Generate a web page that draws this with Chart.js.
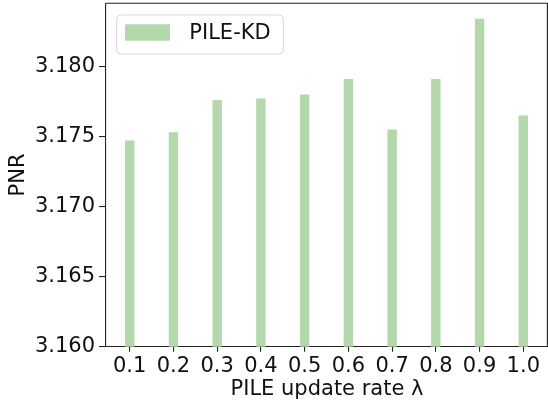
<!DOCTYPE html>
<html>
<head>
<meta charset="utf-8">
<script src="https://cdn.jsdelivr.net/npm/chart.js@4.4.0/dist/chart.umd.min.js"></script>
<style>
  html, body { margin: 0; padding: 0; background: #fff; }
  #wrap { width: 548px; height: 405px; }
</style>
</head>
<body>
<div id="wrap"><canvas id="myChart" width="548" height="405"></canvas></div>
<script>
// update rates on the x axis
const rates = [0.1, 0.2, 0.3, 0.4, 0.5, 0.6, 0.7, 0.8, 0.9, 1.0];
// PNR
const pnr = [3.1747, 3.1753, 3.1776, 3.1777, 3.1780, 3.1791, 3.1755, 3.1791, 3.1834, 3.1765];
const yTicks = [3.160, 3.165, 3.170, 3.175, 3.180];
const seriesName = 'PILE-KD';

const FONT = "'DejaVu Sans', sans-serif";
const barColor = '#b4d8ac';

// top / right spines like matplotlib
const spines = {
    id: 'spines',
    afterDraw(chart) {
        const a = chart.chartArea, c = chart.ctx;
        c.save();
        c.strokeStyle = '#222';
        c.lineWidth = 1.1;
        c.beginPath();
        c.moveTo(a.left, a.top);
        c.lineTo(a.right, a.top);
        c.moveTo(a.right - 0.6, a.top);
        c.lineTo(a.right - 0.6, a.bottom);
        c.stroke();
        c.restore();
    }
};

// legend box inside the plot, upper left
const innerLegend = {
    id: 'innerLegend',
    afterDraw(chart) {
        const a = chart.chartArea, c = chart.ctx;
        const x = a.left + 10.7, y = a.top + 11.7, w = 166.6, h = 39, r = 4;
        c.save();
        c.beginPath();
        c.moveTo(x + r, y);
        c.arcTo(x + w, y, x + w, y + h, r);
        c.arcTo(x + w, y + h, x, y + h, r);
        c.arcTo(x, y + h, x, y, r);
        c.arcTo(x, y, x + w, y, r);
        c.closePath();
        c.fillStyle = 'rgba(255,255,255,0.8)';
        c.fill();
        c.strokeStyle = '#d6d6d6';
        c.lineWidth = 1;
        c.stroke();
        c.fillStyle = barColor;
        c.fillRect(x + 8.3, y + 9.3, 45, 16.4);
        c.fillStyle = '#111';
        c.font = '21px ' + FONT;
        c.textBaseline = 'middle';
        c.fillText(chart.data.datasets[0].label, x + 72.6, y + 18.5);
        c.restore();
    }
};

const data = {
    datasets: [{
        label: seriesName,
        backgroundColor: barColor,
        borderWidth: 0,
        barThickness: 8.75,
        data: rates.map((r, i) => ({ x: r, y: pnr[i] })),
    }]
};

const config = {
    type: 'bar',
    data: data,
    plugins: [spines, innerLegend],
    options: {
        responsive: false,
        animation: false,
        layout: { padding: { top: 3.3, right: 0, left: 0, bottom: 0 } },
        plugins: {
            legend: { display: false },
            tooltip: { enabled: false }
        },
        scales: {
            x: {
                type: 'linear',
                offset: false,
                min: 0.0458,
                max: 1.0565,
                afterBuildTicks(scale) {
                    scale.ticks = rates.map(v => ({ value: v }));
                },
                afterFit(scale) {
                    scale.height = 58.3;
                    scale.paddingLeft = 0;
                    scale.paddingRight = 0;
                },
                grid: { offset: false, drawOnChartArea: false, tickLength: 5, color: '#222', lineWidth: 1.1 },
                border: { color: '#222', width: 1.1 },
                ticks: {
                    color: '#111',
                    font: { family: FONT, size: 21 },
                    padding: 2,
                    maxRotation: 0,
                    autoSkip: false,
                    callback: v => Number(v).toFixed(1)
                },
                title: {
                    display: true,
                    text: 'PILE update rate λ',
                    color: '#111',
                    font: { family: FONT, size: 21 },
                    padding: { top: 0, bottom: 2.4 }
                }
            },
            y: {
                min: 3.160,
                max: 3.18453,
                afterBuildTicks(scale) {
                    scale.ticks = yTicks.map(v => ({ value: v }));
                },
                afterFit(scale) {
                    scale.width = 106;
                    scale.paddingTop = 0;
                    scale.paddingBottom = 0;
                },
                grid: { drawOnChartArea: false, tickLength: 7, color: '#222', lineWidth: 1.1 },
                border: { color: '#222', width: 1.1 },
                ticks: {
                    color: '#111',
                    font: { family: FONT, size: 21 },
                    padding: 4,
                    callback: v => Number(v).toFixed(3)
                },
                title: {
                    display: true,
                    text: 'PNR',
                    color: '#111',
                    font: { family: FONT, size: 21 },
                    padding: { top: 6, bottom: 0 }
                }
            }
        }
    }
};

const myChart = new Chart(
    document.getElementById('myChart'),
    config
);
</script>
</body>
</html>
